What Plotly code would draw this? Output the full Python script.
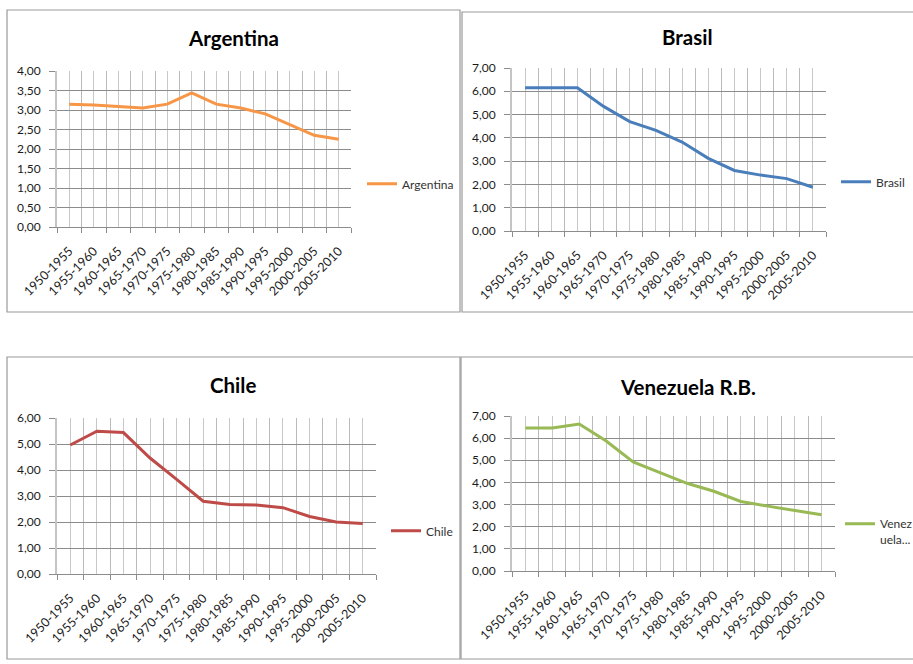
import plotly.graph_objects as go

periods = ["1950-1955", "1955-1960", "1960-1965", "1965-1970", "1970-1975", "1975-1980",
           "1980-1985", "1985-1990", "1990-1995", "1995-2000", "2000-2005", "2005-2010"]
argentina = [3.15, 3.13, 3.09, 3.05, 3.15, 3.44, 3.15, 3.05, 2.90, 2.63, 2.35, 2.25]
brasil = [6.15, 6.15, 6.15, 5.35, 4.70, 4.32, 3.82, 3.12, 2.60, 2.40, 2.25, 1.88]
chile = [4.96, 5.49, 5.44, 4.46, 3.64, 2.80, 2.67, 2.65, 2.55, 2.21, 2.00, 1.94]
venezuela = [6.46, 6.46, 6.64, 5.87, 4.93, 4.45, 3.96, 3.60, 3.14, 2.93, 2.72, 2.54]

titles = ["Argentina", "Brasil", "Chile", "Venezuela R.B."]
legend_names = ["Argentina", "Brasil", "Chile", "Venez<br>uela..."]
colors = ["#F79646", "#4A7EBB", "#BE4B48", "#98B954"]
series = [argentina, brasil, chile, venezuela]
y_max = [4, 7, 6, 7]
y_step = [0.5, 1, 1, 1]

W, H = 913, 664
# plot areas in pixels: (left, right, top, bottom)
areas = [(57, 351, 71, 227), (512, 826, 68, 231), (57, 376, 418, 574), (512, 835, 416, 571)]
title_pos = [(233, 38), (687, 37), (233, 385), (688, 387)]
legend_pos = [(362, 184), (836, 182), (386, 531), (840, 532)]
boxes = [(7, 460, 10, 312), (462, 920, 12, 312), (7, 460, 357, 659), (461, 920, 357, 659)]

FONT = "Lato, 'Open Sans', sans-serif"
idx = list(range(len(periods)))

fig = go.Figure()
layout = dict(
    width=W, height=H, margin=dict(l=0, r=0, t=0, b=0, pad=0, autoexpand=False),
    paper_bgcolor="white", plot_bgcolor="white",
    separators=",.", showlegend=True,
    font=dict(family=FONT, color="#1a1a1a"),
    annotations=[], shapes=[],
)

for k in range(4):
    n = "" if k == 0 else str(k + 1)
    leg = "legend" if k == 0 else "legend" + str(k + 1)
    fig.add_trace(go.Scatter(
        x=idx, y=series[k], mode="lines", name=legend_names[k],
        line=dict(color=colors[k], width=3),
        xaxis="x" + n, yaxis="y" + n, legend=leg,
    ))
    l, r, t, b = areas[k]
    layout["xaxis" + n] = dict(
        domain=[l / W, r / W], anchor="y" + n,
        range=[-0.5, len(periods) - 0.5],
        tickmode="array", tickvals=idx, ticktext=periods,
        tickangle=-45, ticks="", ticklabelstandoff=11, automargin=False,
        tickfont=dict(size=12.5, family=FONT, color="#1a1a1a"),
        showgrid=True, gridcolor="#C8C8C8", gridwidth=1,
        showline=True, linecolor="#8C8C8C", linewidth=1,
        zeroline=False, fixedrange=True,
        minor=dict(tickmode="array", tickvals=[i - 0.5 for i in range(len(periods) + 1)],
                   showgrid=True, gridcolor="#BBBBBB", gridwidth=1,
                   ticks="outside", ticklen=5, tickcolor="#8C8C8C"),
    )
    layout["yaxis" + n] = dict(
        domain=[1 - b / H, 1 - t / H], anchor="x" + n,
        range=[0, y_max[k]], tickmode="linear", tick0=0, dtick=y_step[k],
        tickformat=".2f", ticks="outside", ticklen=6, tickcolor="#8C8C8C",
        ticklabelstandoff=6, automargin=False,
        tickfont=dict(size=12, family=FONT, color="#1a1a1a"),
        showgrid=True, gridcolor="#8C8C8C", gridwidth=1,
        showline=True, linecolor="#C4C4C4", linewidth=2,
        zeroline=False, fixedrange=True,
    )
    lx, ly = legend_pos[k]
    layout[leg] = dict(
        x=lx / W, y=1 - ly / H, xanchor="left", yanchor="middle",
        bgcolor="rgba(0,0,0,0)", borderwidth=0, valign="top",
        font=dict(size=12, family=FONT, color="#333333"),
    )
    tx, ty = title_pos[k]
    layout["annotations"].append(dict(
        text="<b>" + titles[k] + "</b>", x=tx / W, y=1 - ty / H,
        xref="paper", yref="paper", xanchor="center", yanchor="middle",
        showarrow=False, font=dict(size=20.5, family=FONT, color="#000000"),
    ))
    x0, x1, y0, y1 = boxes[k]
    layout["shapes"].append(dict(
        type="rect", xref="paper", yref="paper",
        x0=x0 / W, x1=x1 / W, y0=1 - y1 / H, y1=1 - y0 / H,
        line=dict(color="#9A9A9A", width=1.2), fillcolor="rgba(0,0,0,0)", layer="below",
    ))

fig.update_layout(**layout)
fig.write_html("out.html")
